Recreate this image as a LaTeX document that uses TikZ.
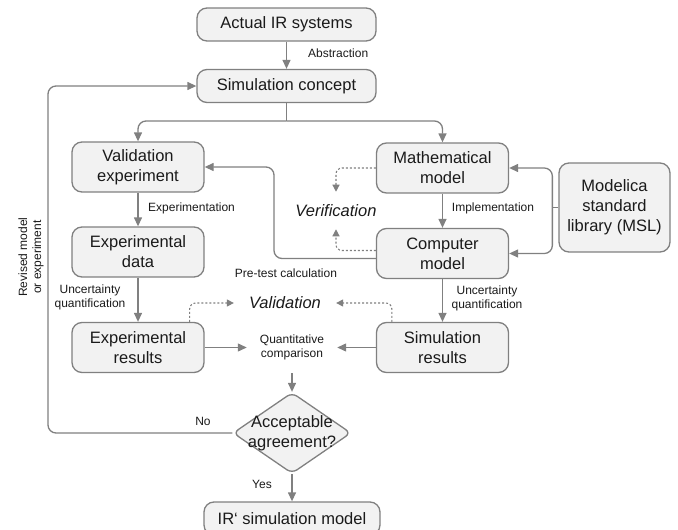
\documentclass[tikz,border=0pt]{standalone}
\usepackage{fontspec}
\setmainfont{Liberation Sans}
\usetikzlibrary{shapes.geometric,arrows.meta,calc}
\definecolor{linegray}{RGB}{128,128,128}
\definecolor{boxgray}{RGB}{242,242,242}
\definecolor{textblack}{RGB}{26,26,26}
\tikzset{
  boxtext/.style={align=center, font=\fontsize{16.5}{19.8}\selectfont, text=textblack},
  box/.style={boxtext, draw=linegray, fill=boxgray, line width=1.3pt, rounded corners=10pt, inner sep=0pt},
  widebox/.style={box, minimum width=179pt, minimum height=33pt},
  stagebox/.style={box, minimum width=132pt, minimum height=50pt},
  decision/.style={diamond, draw=linegray, fill=boxgray, line width=1.3pt, rounded corners=6pt, minimum width=118pt, minimum height=81pt, inner sep=0pt},
  note/.style={align=center, inner sep=0pt, font=\fontsize{12}{14}\selectfont, text=textblack},
  phase/.style={inner sep=0pt, font=\fontsize{16.5}{19.8}\selectfont\itshape, text=textblack},
  link/.style={draw=linegray, line width=1.3pt, rounded corners=8pt},
  flow/.style={link, -{Triangle[length=9pt,width=8pt]}},
  check/.style={draw=linegray, line width=1.1pt, dash pattern=on 2pt off 2pt, rounded corners=6pt, -{Triangle[length=7pt,width=7pt]}},
}
\begin{document}
\begin{tikzpicture}[x=1pt,y=-1pt]
  \useasboundingbox (0,0) rectangle (678,530);
  % boxes
  \node[widebox] (actual) at (286.5,24.5) {Actual IR systems};
  \node[widebox] (concept) at (286.5,86) {Simulation concept};
  \node[stagebox] (valexp) at (138,167) {Validation\\experiment};
  \node[stagebox] (expdata) at (138,252) {Experimental\\data};
  \node[stagebox] (expres) at (138,347.5) {Experimental\\results};
  \node[stagebox] (mathm) at (442.5,168) {Mathematical\\model};
  \node[stagebox] (compm) at (442.5,253.5) {Computer\\model};
  \node[stagebox] (simres) at (442.5,347.5) {Simulation\\results};
  \node[box, minimum width=111pt, minimum height=89pt] (msl) at (614.5,207.5) {Modelica\\standard\\library (MSL)};
  \node[decision, label={[boxtext]center:{Acceptable\\agreement?}}] (agree) at (292,433) {};
  \node[box, minimum width=176pt, minimum height=33pt] (irmodel) at (292,518.5) {IR‘ simulation model};
  % labels
  \node[note, anchor=west] (abstr) at (308,53) {Abstraction};
  \node[note, anchor=west] (exper) at (148,208) {Experimentation};
  \node[note] (implem) at (493,208) {Implementation};
  \node[note] (pretest) at (286,273) {Pre-test calculation};
  \node[note] (uqleft) at (90,297) {Uncertainty\\quantification};
  \node[note] (uqright) at (487,298) {Uncertainty\\quantification};
  \node[note, inner xsep=13pt, inner ysep=13pt] (quant) at (292,347.5) {Quantitative\\comparison};
  \node[note] (no) at (203,421) {No};
  \node[note] (yes) at (262,484) {Yes};
  \node[note, rotate=90] (revised) at (31,257) {Revised model\\or experiment};
  \node[phase, inner ysep=12.5pt] (verif) at (336,210.5) {Verification};
  \node[phase, inner xsep=15pt] (valid) at (285,303) {Validation};
  % main flow
  \coordinate (split) at (286.5,121);
  \draw[flow] (actual) -- (concept);
  \draw[link] (concept) -- (split);
  \draw[flow] (split) -| (valexp);
  \draw[flow] (split) -| (mathm);
  \draw[flow] (valexp) -- (expdata);
  \draw[flow] (expdata) -- (expres);
  \draw[flow] (mathm) -- (compm);
  \draw[flow] (compm) -- (simres);
  \draw[flow] (expres.east) -- (quant.west);
  \draw[flow] (simres.west) -- (quant.east);
  \draw[flow] (quant) -- (agree);
  \draw[flow] (agree) -- (irmodel);
  % revision loop
  \coordinate (back) at (48,433);
  \draw[flow] (agree.west) -- (back) |- (concept.west);
  % pre-test calculation
  \coordinate (pre) at (274,258.5);
  \draw[flow] ($(compm.west)+(0,5)$) -- (pre) |- (valexp.east);
  % library
  \coordinate (mslj) at ($(msl.west)+(-6,0)$);
  \draw[link] (msl.west) -- (mslj);
  \draw[flow] (mslj) |- (mathm.east);
  \draw[flow] (mslj) |- (compm.east);
  % verification and validation
  \draw[check] (mathm.west) -| (verif.north);
  \draw[check] ($(compm.west)+(0,-3)$) -| (verif.south);
  \draw[check] ($(expres.north east)+(-15,0)$) |- (valid.west);
  \draw[check] ($(simres.north west)+(16,0)$) |- (valid.east);
\end{tikzpicture}
\end{document}
